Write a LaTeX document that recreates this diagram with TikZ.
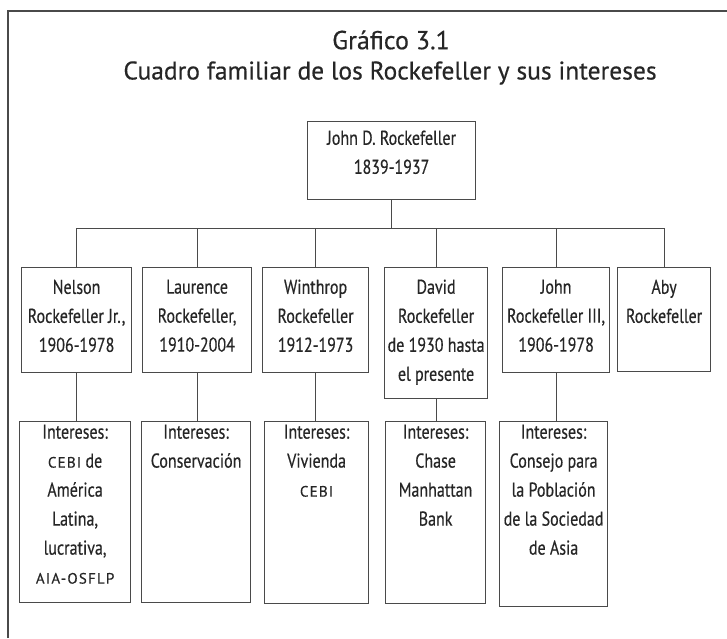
\documentclass[tikz,border=0pt]{standalone}
\usepackage{fontspec}
\setmainfont{PT Sans}[FakeBold=0.4]
\newfontfamily\cond{PT Sans}[FakeStretch=0.8,FakeBold=0.4]
\newfontfamily\smcfont{PT Sans}[LetterSpace=8,FakeBold=0.4]
\definecolor{linec}{HTML}{4A4A4A}
\definecolor{textc}{HTML}{262626}
\newcommand\bxt[4]{\begin{minipage}[t][#2][t]{#1}\vspace*{#3}\centering\cond\fontsize{20}{29}\selectfont #4\end{minipage}}
\newcommand\smc[1]{{\smcfont\fontsize{15}{29}\selectfont #1}}
\begin{document}
\begin{tikzpicture}[x=1pt,y=-1pt,
  box/.style={draw=linec, line width=1.2pt, inner sep=0pt, anchor=north west, text=textc},
  conn/.style={draw=linec, line width=1.2pt},
  ttl/.style={text=textc, inner sep=0pt}]
\useasboundingbox (0,0) rectangle (727,638);
\fill[white] (0,0) rectangle (727,638);
% frame (only top and left visible)
\coordinate (fbl) at (8,638);
\coordinate (ftl) at (8,11);
\coordinate (ftr) at (727,11);
\draw[conn] (fbl) -- (ftl) -- (ftr);
% titles
\node[ttl] (t1) at (391,40) {\fontsize{26}{30}\selectfont Gráfico 3.1};
\node[ttl] (t2) at (390,73) {\fontsize{25.5}{30}\selectfont Cuadro familiar de los Rockefeller y sus intereses};
% top box
\node[box] (jdr) at (307,121) {\bxt{168pt}{78pt}{9pt}{John D. Rockefeller\\1839-1937}};
% children
\node[box] (c1) at (21,267) {\bxt{110pt}{105pt}{12pt}{Nelson\\Rockefeller Jr.,\\1906-1978}};
\node[box] (c2) at (142,267) {\bxt{109pt}{105pt}{12pt}{Laurence\\Rockefeller,\\1910-2004}};
\node[box] (c3) at (262,267) {\bxt{106pt}{105pt}{12pt}{Winthrop\\Rockefeller\\1912-1973}};
\node[box] (c4) at (384,267) {\bxt{103pt}{131pt}{12pt}{David\\Rockefeller\\de 1930 hasta\\el presente}};
\node[box] (c5) at (502,267) {\bxt{107pt}{105pt}{12pt}{John\\Rockefeller III,\\1906-1978}};
\node[box] (c6) at (617,267) {\bxt{93pt}{104pt}{12pt}{Aby\\Rockefeller}};
% interests
\node[box] (i1) at (19,421) {\bxt{111pt}{181pt}{3pt}{Intereses:\\\smc{CEBI} de\\América\\Latina,\\lucrativa,\\\smc{AIA-OSFLP}}};
\node[box] (i2) at (141,421) {\bxt{109pt}{181pt}{3pt}{Intereses:\\Conservación}};
\node[box] (i3) at (264,421) {\bxt{104pt}{182pt}{3pt}{Intereses:\\Vivienda\\\smc{CEBI}}};
\node[box] (i4) at (385,421) {\bxt{100pt}{182pt}{3pt}{Intereses:\\Chase\\Manhattan\\Bank}};
\node[box] (i5) at (499,421) {\bxt{108pt}{185pt}{3pt}{Intereses:\\Consejo para\\la Población\\de la Sociedad\\de Asia}};
% connectors
\draw[conn] (jdr.south) -- ++(0,28) coordinate (bus);
\draw[conn] (c1.north) -- (c1.north |- bus) -- (c6.north |- bus) -- (c6.north);
\foreach \c in {c2,c3,c4,c5} \draw[conn] (\c.north) -- (\c.north |- bus);
\foreach \c/\i in {c1/i1,c2/i2,c3/i3,c4/i4,c5/i5} \draw[conn] (\c.south) -- (\c.south |- \i.north);
\end{tikzpicture}
\end{document}
